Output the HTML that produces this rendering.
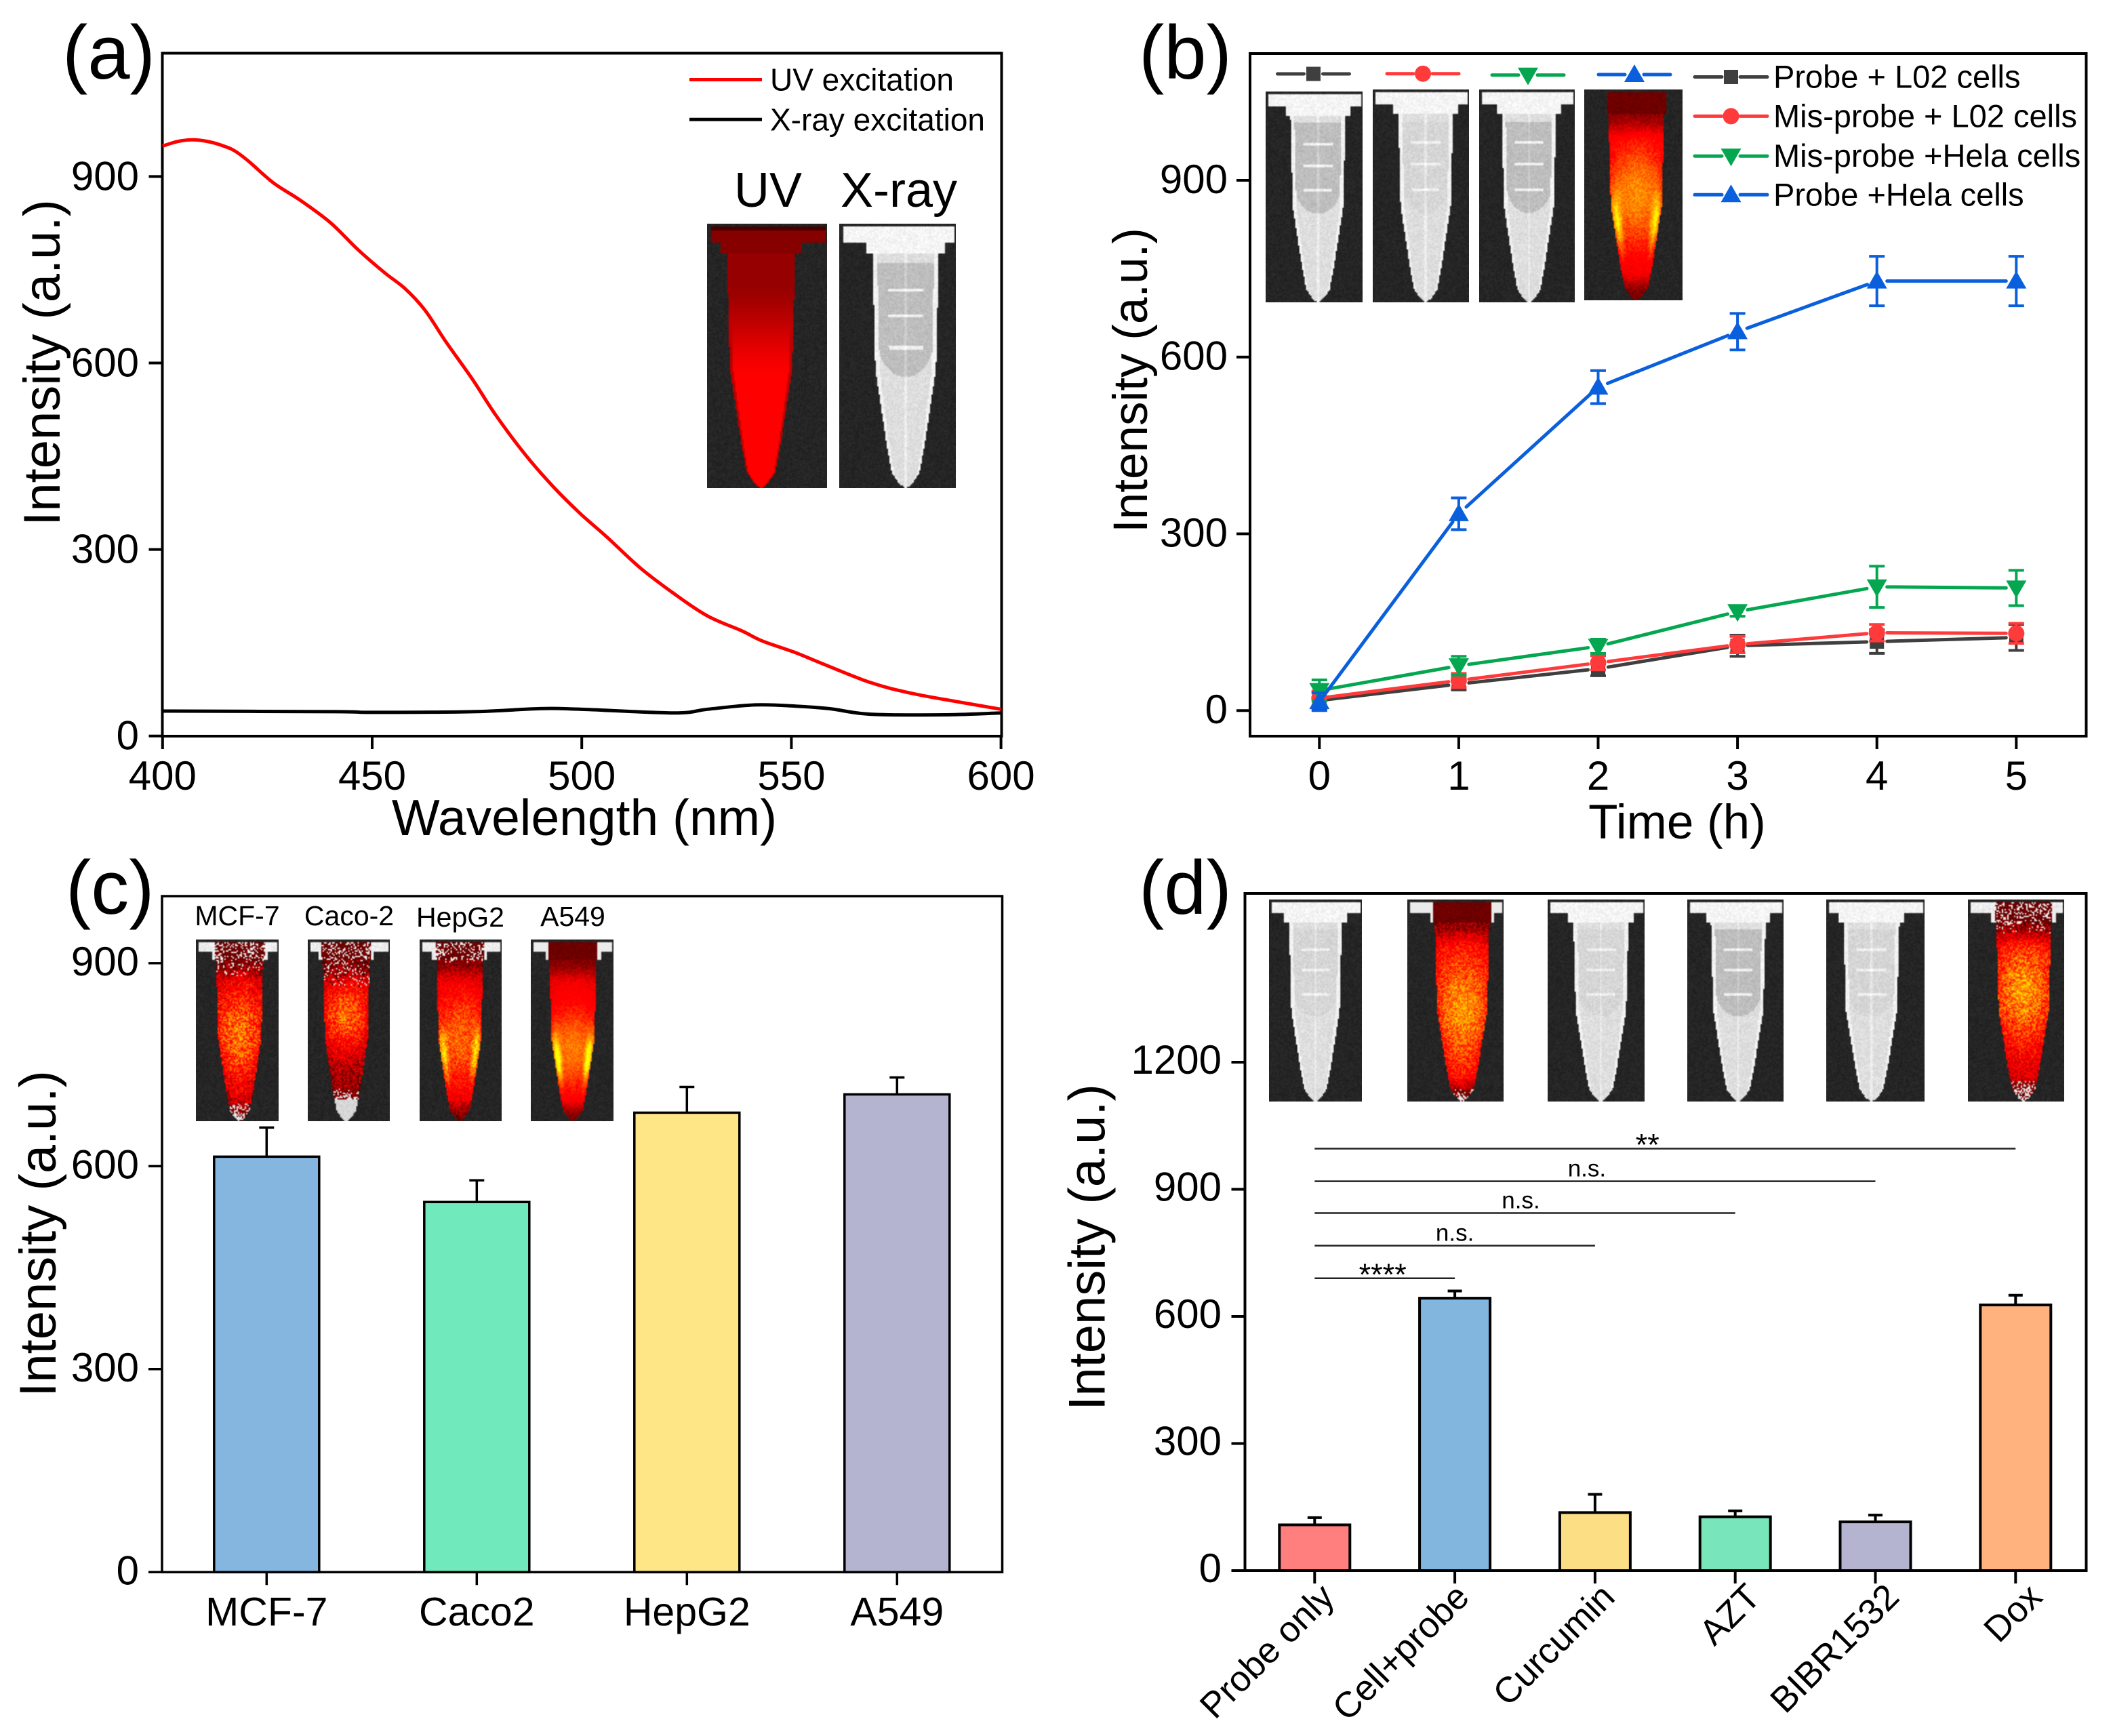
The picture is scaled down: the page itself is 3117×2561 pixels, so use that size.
<!DOCTYPE html>
<html lang="en">
<head>
<meta charset="utf-8">
<title>Intensity charts</title>
<style>
html,body{margin:0;padding:0;background:#fff;}
#stage{position:relative;width:3117px;height:2561px;overflow:hidden;background:#fff;}
#stage svg{position:absolute;left:0;top:0;}
#stage text{font-family:"Liberation Sans",Arial,sans-serif;fill:#000;}
canvas{position:absolute;display:block;}
</style>
</head>
<body>
<div id="stage">
<svg id="fig" width="3117" height="2561" viewBox="0 0 3117 2561" xmlns="http://www.w3.org/2000/svg">
  <g id="panel-a">
    <text x="92" y="116" font-size="112">(a)</text>
    <text x="862" y="1232" font-size="75" text-anchor="middle">Wavelength (nm)</text>
    <text transform="translate(88,535) rotate(-90)" font-size="76" text-anchor="middle">Intensity (a.u.)</text>
    <line x1="1017" x2="1124" y1="117.5" y2="117.5" stroke="#f00" stroke-width="5"/>
    <text x="1136" y="133.5" font-size="46">UV excitation</text>
    <line x1="1017" x2="1124" y1="176.3" y2="176.3" stroke="#000" stroke-width="5"/>
    <text x="1136" y="192.3" font-size="46">X-ray excitation</text>
    <text x="1133" y="305" font-size="72" text-anchor="middle">UV</text>
    <text x="1326" y="305" font-size="72" text-anchor="middle">X-ray</text>
  </g>
  <g id="panel-b">
    <text x="1680" y="116" font-size="112">(b)</text>
    <text x="2474" y="1237" font-size="71" text-anchor="middle">Time (h)</text>
    <text transform="translate(1692,561) rotate(-90)" font-size="71" text-anchor="middle">Intensity (a.u.)</text>
  </g>
  <g id="panel-c">
    <text x="97" y="1348" font-size="112">(c)</text>
    <text transform="translate(82,1820) rotate(-90)" font-size="76" text-anchor="middle">Intensity (a.u.)</text>
    <text x="350" y="1365" font-size="41" text-anchor="middle">MCF-7</text>
    <text x="515" y="1365" font-size="41" text-anchor="middle">Caco-2</text>
    <text x="679" y="1367" font-size="41" text-anchor="middle">HepG2</text>
    <text x="845" y="1366" font-size="41" text-anchor="middle">A549</text>
  </g>
  <g id="panel-d">
    <text x="1680" y="1348" font-size="112">(d)</text>
    <text transform="translate(1629.5,1840) rotate(-90)" font-size="76" text-anchor="middle">Intensity (a.u.)</text>
  </g>
</svg>
</div>
<script>
/* ---------- panel (a) data ---------- */
const aTicksX = [400, 450, 500, 550, 600];
const aTicksY = [0, 300, 600, 900];
const uvWavelength = [400,403.4,407,411,415,417.5,420.8,426.4,432.8,440,446.5,453,457.8,462.6,467.4,473.9,479.5,486.7,493.2,499.6,506,514,522,530,538.2,543,551,557.5,568.8,578.4,589.7,600];
const uvIntensity = [949,956,959,956,948,940,923,890,862,826,783,745,720,685,636,574,516,451,401,358,320,270,229,193,169,153,134,116,86,69,55,43];
const xrayWavelength = [400,441.7,449.7,473.9,490,499.6,522,530,541.4,551,559,568.8,586.5,600];
const xrayIntensity = [40,39,38,39,44,43,37,43,50,48,44,35,34,37];

/* ---------- panel (b) data ---------- */
const bTimes = [0, 1, 2, 3, 4, 5];
const bTicksY = [0, 300, 600, 900];
const bSeriesNames = ["Probe + L02 cells", "Mis-probe + L02 cells", "Mis-probe +Hela cells", "Probe +Hela cells"];
const bProbeL02 = [17, 45, 71, 110, 117, 124];
const bProbeL02Err = [14, 10, 12, 18, 20, 22];
const bMisL02 = [21, 51, 81, 112, 132, 131];
const bMisL02Err = [12, 12, 12, 14, 14, 17];
const bMisHela = [34, 76, 109, 168, 210, 208];
const bMisHelaErr = [18, 16, 12, 8, 35, 30];
const bProbeHela = [15, 334, 549, 643, 729, 729];
const bProbeHelaErr = [15, 27, 28, 31, 42, 42];

/* ---------- panel (c) data ---------- */
const cCategories = ["MCF-7", "Caco2", "HepG2", "A549"];
const cTicksY = [0, 300, 600, 900];
const cValues = [614, 547, 679, 706];
const cErrors = [43, 32, 38, 25];

/* ---------- panel (d) data ---------- */
const dCategories = ["Probe only", "Cell+probe", "Curcumin", "AZT", "BIBR1532", "Dox"];
const dTicksY = [0, 300, 600, 900, 1200];
const dValues = [108, 643, 137, 127, 115, 627];
const dErrors = [17, 17, 43, 14, 16, 23];
const dSigLabels = ["****", "n.s.", "n.s.", "n.s.", "**"];
const dSigHeights = [690, 767, 844, 919, 996];
const dSigEndCategory = [1, 2, 3, 4, 5];

const SVGNS = "http://www.w3.org/2000/svg";
function add(parentId, tag, attrs, name, text) {
  const el = document.createElementNS(SVGNS, tag);
  for (const k in attrs) el.setAttribute(k, attrs[k]);
  
  
  if (text !== undefined) el.textContent = text;
  document.getElementById(parentId).appendChild(el);
  return el;
}

/* shared frame and ticks */
function frame(p, box, sw) {
  add(p, 'rect', {x: box.l, y: box.t, width: box.r - box.l, height: box.b - box.t, fill: 'none', stroke: '#000', 'stroke-width': sw}, p + '-frame');
}
function yAxis(p, box, ticks, yFn, sw, labelRight, dy) {
  ticks.forEach(v => {
    add(p, 'line', {x1: box.l - 20, x2: box.l, y1: yFn(v), y2: yFn(v), stroke: '#000', 'stroke-width': sw}, p + '-y-tick');
    add(p, 'text', {x: labelRight, y: yFn(v) + dy, 'font-size': 60, 'text-anchor': 'end'}, p + '-y-tick-label', String(v));
  });
}

/* ---------- panel (a) ---------- */
const xA = v => 239.8 + (v - 400) * 6.184;
const yA = v => 1085.7 - v * 0.917;
(function () {
  const p = 'panel-a';
  const box = {l: 239.5, r: 1477.5, t: 78.5, b: 1086};
  frame(p, box, 4);
  yAxis(p, box, aTicksY, yA, 4, 205, 20);
  aTicksX.forEach(v => {
    add(p, 'line', {x1: xA(v), x2: xA(v), y1: box.b, y2: box.b + 19, stroke: '#000', 'stroke-width': 4}, 'panel-a-x-tick');
    add(p, 'text', {x: xA(v), y: 1165, 'font-size': 60, 'text-anchor': 'middle'}, 'panel-a-x-tick-label', String(v));
  });
  /* smooth curve through the read points */
  const pathOf = (xs, ys) => {
    const pts = xs.map((x, i) => [xA(x), yA(ys[i])]);
    let d = 'M' + pts[0][0].toFixed(1) + ' ' + pts[0][1].toFixed(1);
    for (let i = 0; i < pts.length - 1; i++) {
      const a = pts[Math.max(0, i - 1)], b = pts[i], c = pts[i + 1], e = pts[Math.min(pts.length - 1, i + 2)];
      d += ' C' + (b[0] + (c[0] - a[0]) / 6).toFixed(1) + ' ' + (b[1] + (c[1] - a[1]) / 6).toFixed(1) + ' ' +
           (c[0] - (e[0] - b[0]) / 6).toFixed(1) + ' ' + (c[1] - (e[1] - b[1]) / 6).toFixed(1) + ' ' +
           c[0].toFixed(1) + ' ' + c[1].toFixed(1);
    }
    return d;
  };
  add(p, 'path', {d: pathOf(xrayWavelength, xrayIntensity), fill: 'none', stroke: '#000', 'stroke-width': 5, 'stroke-linejoin': 'round'}, 'xray-excitation-line');
  add(p, 'path', {d: pathOf(uvWavelength, uvIntensity), fill: 'none', stroke: '#f00', 'stroke-width': 5, 'stroke-linejoin': 'round'}, 'uv-excitation-line');
})();

/* ---------- panel (b) ---------- */
const xB = v => 1946.3 + v * 205.6;
const yB = v => 1048.2 - v * 0.8691;
const bColors = ['#3f3f3f', '#ff3a3a', '#05a650', '#0a5fdc'];
function marker(p, idx, x, y, name) {
  const c = bColors[idx];
  if (idx === 0) add(p, 'rect', {x: x - 10.5, y: y - 10.5, width: 21, height: 21, fill: c}, name);
  if (idx === 1) add(p, 'circle', {cx: x, cy: y, r: 12, fill: c}, name);
  if (idx === 2) add(p, 'polygon', {points: `${x - 15},${y - 11} ${x + 15},${y - 11} ${x},${y + 15}`, fill: c}, name);
  if (idx === 3) add(p, 'polygon', {points: `${x - 15},${y + 11} ${x + 15},${y + 11} ${x},${y - 15}`, fill: c}, name);
}
(function () {
  const p = 'panel-b';
  const box = {l: 1844, r: 3077.5, t: 79, b: 1086};
  frame(p, box, 4);
  yAxis(p, box, bTicksY, yB, 4, 1811, 19);
  bTimes.forEach(v => {
    add(p, 'line', {x1: xB(v), x2: xB(v), y1: box.b, y2: box.b + 19, stroke: '#000', 'stroke-width': 4}, 'panel-b-x-tick');
    add(p, 'text', {x: xB(v), y: 1165, 'font-size': 60, 'text-anchor': 'middle'}, 'panel-b-x-tick-label', String(v));
  });
  const vals = [bProbeL02, bMisL02, bMisHela, bProbeHela];
  const errs = [bProbeL02Err, bMisL02Err, bMisHelaErr, bProbeHelaErr];
  const slugs = ['probe-l02', 'mis-probe-l02', 'mis-probe-hela', 'probe-hela'];
  vals.forEach((ys, s) => {
    const c = bColors[s];
    bTimes.forEach((t, i) => {
      const x = xB(t), y = yB(ys[i]), up = yB(ys[i] + errs[s][i]), dn = yB(ys[i] - errs[s][i]);
      add(p, 'path', {d: `M${x - 11.5} ${up} H${x + 11.5} M${x} ${up} V${dn} M${x - 11.5} ${dn} H${x + 11.5}`, fill: 'none', stroke: c, 'stroke-width': 4}, slugs[s] + '-error-bar');
      if (i > 0) {
        const x0 = xB(bTimes[i - 1]), y0 = yB(ys[i - 1]);
        const len = Math.hypot(x - x0, y - y0), g = 15;
        const ux = (x - x0) / len, uy = (y - y0) / len;
        add(p, 'line', {x1: x0 + ux * (i === 1 ? 0 : g), y1: y0 + uy * (i === 1 ? 0 : g), x2: x - ux * g, y2: y - uy * g, stroke: c, 'stroke-width': 5, 'stroke-linecap': 'round'}, slugs[s] + '-line');
      }
      marker(p, s, x, y, slugs[s] + '-point');
    });
    /* side legend */
    const ly = [113.5, 171.4, 230.2, 287.3][s];
    add(p, 'line', {x1: 2500, x2: 2540, y1: ly, y2: ly, stroke: c, 'stroke-width': 5, 'stroke-linecap': 'round'}, slugs[s] + '-legend-line-left');
    add(p, 'line', {x1: 2567, x2: 2607, y1: ly, y2: ly, stroke: c, 'stroke-width': 5, 'stroke-linecap': 'round'}, slugs[s] + '-legend-line-right');
    marker(p, s, 2553.5, ly, slugs[s] + '-legend-marker');
    add(p, 'text', {x: 2616, y: ly + 16, 'font-size': 47}, slugs[s] + '-legend-label', bSeriesNames[s]);
    /* mini legend above tubes */
    const mx = [1937.5, 2099, 2254, 2411][s], my = [109, 108.7, 110.7, 110][s];
    add(p, 'line', {x1: mx - 53, x2: mx - 14, y1: my, y2: my, stroke: c, 'stroke-width': 5, 'stroke-linecap': 'round'}, slugs[s] + '-tube-key-line-left');
    add(p, 'line', {x1: mx + 14, x2: mx + 53, y1: my, y2: my, stroke: c, 'stroke-width': 5, 'stroke-linecap': 'round'}, slugs[s] + '-tube-key-line-right');
    marker(p, s, mx, my, slugs[s] + '-tube-key-marker');
  });
})();

/* ---------- bar panels ---------- */
function bars(p, cats, values, errors, xFn, yFn, width, colors, sw, capHalf) {
  cats.forEach((cat, i) => {
    const x = xFn(i), top = yFn(values[i]), cap = yFn(values[i] + errors[i]), base = yFn(0);
    add(p, 'path', {d: `M${x} ${top} V${cap} M${x - capHalf} ${cap} H${x + capHalf}`, fill: 'none', stroke: '#000', 'stroke-width': sw}, 'error-bar-' + cat.toLowerCase());
    add(p, 'rect', {x: x - width / 2, y: top, width: width, height: base - top, fill: colors[i], stroke: '#000', 'stroke-width': sw}, 'bar-' + cat.toLowerCase());
  });
}

/* ---------- panel (c) ---------- */
const xC = i => 393.3 + i * 310;
const yC = v => 2319.3 - v * 0.9983;
(function () {
  const p = 'panel-c';
  const box = {l: 239, r: 1478.5, t: 1322, b: 2319.3};
  frame(p, box, 3.5);
  yAxis(p, box, cTicksY, yC, 3.5, 205, 18);
  bars(p, cCategories, cValues, cErrors, xC, yC, 155, ['#85b6e0', '#70e9bc', '#fee686', '#b4b4d0'], 3.5, 11);
  cCategories.forEach((cat, i) => {
    add(p, 'line', {x1: xC(i), x2: xC(i), y1: box.b, y2: box.b + 19, stroke: '#000', 'stroke-width': 3.5}, 'panel-c-x-tick');
    add(p, 'text', {x: xC(i), y: 2398, 'font-size': 59, 'text-anchor': 'middle'}, 'panel-c-x-tick-label', cat);
  });
})();

/* ---------- panel (d) ---------- */
const xD = i => 1939.3 + i * 206.8;
const yD = v => 2317 - v * 0.625;
(function () {
  const p = 'panel-d';
  const box = {l: 1836.5, r: 3077.5, t: 1318, b: 2317};
  const labelShift = [0, -8, 0, 8, 6, 10];
  frame(p, box, 4);
  yAxis(p, box, dTicksY, yD, 4, 1802, 17);
  bars(p, dCategories, dValues, dErrors, xD, yD, 104, ['#ff7f7f', '#82b6de', '#fcdf85', '#78e6ba', '#b4b4d0', '#ffb27d'], 4, 10.5);
  dCategories.forEach((cat, i) => {
    add(p, 'line', {x1: xD(i), x2: xD(i), y1: box.b, y2: box.b + 19, stroke: '#000', 'stroke-width': 4}, 'panel-d-x-tick');
    add(p, 'text', {transform: `translate(${xD(i) + 32 + labelShift[i]},2359) rotate(-45)`, 'font-size': 53, 'text-anchor': 'end'}, 'panel-d-x-tick-label', cat);
  });
  dSigLabels.forEach((lab, i) => {
    const y = yD(dSigHeights[i]), x2 = xD(dSigEndCategory[i]);
    add(p, 'line', {x1: xD(0), x2: x2, y1: y, y2: y, stroke: '#222', 'stroke-width': 2.5}, 'significance-line');
    const star = lab.charAt(0) === '*';
    add(p, 'text', {x: (xD(0) + x2) / 2 + (i === 4 ? -26 : 0) + (i === 0 ? -3 : 0) + (i === 3 ? -12 : 0) + (i === 2 ? -6 : 0), y: y + (star ? 10 : -7), 'font-size': star ? 45 : 35, 'text-anchor': 'middle'}, 'significance-label', lab);
  });
})();

/* ---------- procedural tube thumbnails (decorative images) ---------- */
function rng(seed) {
  return function () {
    seed |= 0; seed = seed + 0x6D2B79F5 | 0;
    let t = Math.imul(seed ^ seed >>> 15, 1 | seed);
    t = t + Math.imul(t ^ t >>> 7, 61 | t) ^ t;
    return ((t ^ t >>> 14) >>> 0) / 4294967296;
  };
}
const hwStops = [[.10,.285],[.55,.26],[.83,.165],[.94,.12],[.98,.06],[1.0,.01]];
function halfWidth(t) {
  for (let i = 1; i < hwStops.length; i++) {
    if (t <= hwStops[i][0]) {
      const a = hwStops[i - 1], b = hwStops[i];
      return a[1] + (b[1] - a[1]) * (t - a[0]) / (b[0] - a[0]);
    }
  }
  return 0;
}
const sstep = (a, b, x) => { const u = Math.min(1, Math.max(0, (x - a) / (b - a))); return u * u * (3 - 2 * u); };
const gauss = (x, m, s) => Math.exp(-((x - m) / s) * ((x - m) / s));
function heatColor(v) {
  v = Math.min(1, Math.max(0, v));
  return [Math.min(255, 85 + v * 430), v > .5 ? (v - .5) * 2 * 255 : 0, 0];
}
function tube(name, x0, y0, x1, y1, o) {
  const c = document.createElement('canvas');
  
  
  const w = x1 - x0, h = y1 - y0, cw = Math.round(w / 2), ch = Math.round(h / 2);
  c.width = cw; c.height = ch;
  c.style.left = x0 + 'px'; c.style.top = y0 + 'px';
  c.style.width = w + 'px'; c.style.height = h + 'px';
  const ctx = c.getContext('2d'), img = ctx.createImageData(cw, ch), R = rng(o.seed || 7);
  const cx = o.cx || .54;
  for (let j = 0; j < ch; j++) {
    const t = (j + .5) / ch;
    for (let i = 0; i < cw; i++) {
      const u = (i + .5) / cw, dx = Math.abs(u - cx);
      let col, n = R();
      const bgv = 30 + n * 14;
      const hw = halfWidth(t);
      const isCap = t > .012 && ((t < .07 && u > .03 && u < .985) || (t < .115 && dx < .335));
      const isBody = t >= .115 && dx < hw;
      col = [bgv, bgv, bgv];
      if (isCap || isBody) {
        const r = isBody ? dx / hw : 0;
        if (o.kind === 'xray') {
          let g = 225;
          const wb = .58, winEll = t > .15 && (t < .44 || (dx / (hw * .92)) * (dx / (hw * .92)) + ((t - .44) / (wb - .44)) * ((t - .44) / (wb - .44)) < 1);
          if (isCap) g = 245;
          else if (r > .86) g = 242;
          else if (winEll) g = o.dim ? 214 : 190;
          else g = 222;
          if (isBody && [.25, .35, .47].some(m => Math.abs(t - m) < .006) && dx < hw * .55) g = 240;
          if (isBody && dx < .012) g += 16;
          g += (n - .5) * 22;
          col = [g, g, g];
        } else if (o.kind === 'uv') {
          let rd = 150 + 105 * sstep(.2, .6, t);
          if (isCap) rd = t < .025 ? 70 : 135;
          if (r > .9) rd = Math.min(rd, 190);
          col = [rd, 0, 0];
        } else {
          const topFade = .35 + .65 * sstep(o.fadeA || .12, o.fadeB || .25, t);
          const tipFade = 1 - (o.tip || .6) * sstep(.86, .98, t);
          let v = ((o.base || .3) + (o.A || .5) * gauss(t, o.pk || .5, o.sg || .3) * (1 - .45 * r * r)) * topFade * tipFade;
          v += (o.cres || 0) * gauss(r, .82, .2) * gauss(t, o.cresT || .62, .14);
          v += (o.noise || .2) * (n - .5);
          if (isCap) {
            if (o.speck && (R() < .62 || dx > .3)) {
              const g = 225 + n * 25;
              col = (dx < .3 && R() < .55) ? [110, 0, 0] : [g, g, g];
            } else if (dx < .3 || (o.speck && dx < .33)) {
              col = [95 + n * 30, 0, 0];
            } else {
              const g = 235;
              col = o.cornerDark ? [bgv, bgv, bgv] : [g, g, g];
            }
          } else if (o.speck && t < (o.speckT || .2) && R() < .45 * (1 - t / (o.speckT || .2)) + .12) {
            col = R() < .6 ? [235, 235, 235] : [70, 0, 0];
          } else if (o.tipSpeck && t > o.tipSpeck) {
            const f = (t - o.tipSpeck) / (1 - o.tipSpeck);
            if (o.tipWhite && t > o.tipWhite) col = [205 + n * 20, 205 + n * 20, 205 + n * 20];
            else col = R() < .15 + f * .6 ? [230, 230, 230] : heatColor(v * .7);
          } else {
            col = heatColor(v);
          }
        }
      }
      const k = (j * cw + i) * 4;
      img.data[k] = col[0]; img.data[k + 1] = col[1]; img.data[k + 2] = col[2]; img.data[k + 3] = 255;
    }
  }
  ctx.putImageData(img, 0, 0);
  document.getElementById('stage').appendChild(c);
}
/* panel a */
tube('tube-image-uv', 1043, 330, 1220, 720, {kind: 'uv', cx: .45, seed: 1});
tube('tube-image-xray', 1238, 330, 1410, 720, {kind: 'xray', cx: .57, seed: 2});
/* panel b */
tube('tube-image-probe-l02', 1867, 135, 2010, 446, {kind: 'xray', cx: .54, seed: 3});
tube('tube-image-mis-probe-l02', 2024.5, 132, 2167, 446, {kind: 'xray', cx: .55, seed: 4, dim: true});
tube('tube-image-mis-probe-hela', 2182, 132, 2322.5, 446, {kind: 'xray', cx: .52, seed: 5});
tube('tube-image-probe-hela', 2337, 132, 2482, 443, {kind: 'heat', cx: .53, seed: 6, base: .3, A: .48, pk: .5, sg: .3, noise: .16, cres: .4, cresT: .64, tip: .75, cornerDark: true});
/* panel c */
tube('tube-image-mcf7', 289, 1386, 410.5, 1654.3, {kind: 'heat', cx: .53, seed: 8, base: .22, A: .5, pk: .52, sg: .3, noise: .42, speck: true, speckT: .2, tip: .5, tipSpeck: .9});
tube('tube-image-caco2', 454, 1386, 575, 1654.3, {kind: 'heat', cx: .47, seed: 9, base: .14, A: .55, pk: .42, sg: .22, noise: .4, speck: true, speckT: .26, tipSpeck: .82, tipWhite: .88});
tube('tube-image-hepg2', 618.6, 1386, 740, 1654.3, {kind: 'heat', cx: .49, seed: 10, base: .28, A: .42, pk: .55, sg: .3, noise: .26, cres: .4, cresT: .64, speck: true, speckT: .13, tip: .7});
tube('tube-image-a549', 783.4, 1386, 905, 1654.3, {kind: 'heat', cx: .51, seed: 11, base: .3, A: .44, pk: .6, sg: .28, noise: .14, cres: .5, cresT: .66, tip: .7, cornerDark: false});
/* panel d */
tube('tube-image-probe-only', 1871.5, 1326.5, 2009, 1625.4, {kind: 'xray', cx: .5, seed: 12, dim: true});
tube('tube-image-cell-probe', 2075.8, 1326.5, 2218, 1625.4, {kind: 'heat', cx: .57, seed: 13, base: .32, A: .46, pk: .55, sg: .35, noise: .32, tip: .7, tipSpeck: .94});
tube('tube-image-curcumin', 2282.5, 1326.5, 2425.5, 1625.4, {kind: 'xray', cx: .55, seed: 14, dim: true});
tube('tube-image-azt', 2489, 1326.5, 2631.4, 1625.4, {kind: 'xray', cx: .53, seed: 15});
tube('tube-image-bibr1532', 2694, 1326.5, 2838.8, 1625.4, {kind: 'xray', cx: .46, seed: 16, dim: true});
tube('tube-image-dox', 2903, 1326.5, 3045.4, 1625.4, {kind: 'heat', cx: .58, seed: 17, base: .28, A: .52, pk: .45, sg: .3, noise: .38, speck: true, speckT: .17, tip: .7, tipSpeck: .9});
</script>
</body>
</html>
